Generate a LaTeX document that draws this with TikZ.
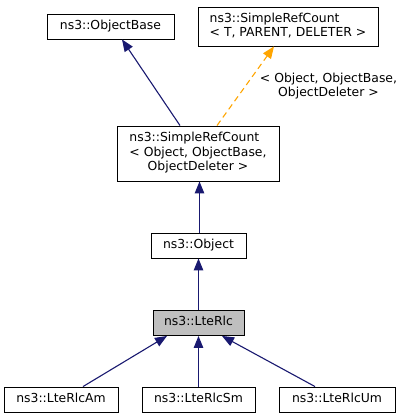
\documentclass[tikz,border=0pt]{standalone}
\usepackage{fontspec}
\setmainfont{DejaVu Sans}
\usetikzlibrary{arrows.meta}
\definecolor{edgeblue}{HTML}{191970}
\definecolor{edgeorange}{HTML}{FFA500}
\definecolor{boxgray}{HTML}{BFBFBF}
\begin{document}
\begin{tikzpicture}[x=1pt,y=-1pt,
  every node/.style={font=\fontsize{12.4}{14.5}\selectfont},
  cls/.style={draw=black,line width=0.9pt,fill=white,inner sep=0pt,
    minimum height=25pt,text height=9pt,text depth=3.4pt},
  multi/.style={draw=black,line width=0.9pt,fill=white,inner sep=0pt},
  inh/.style={draw=edgeblue,line width=1.1pt,-{Triangle[length=12pt,width=9.5pt]}},
  tmpl/.style={draw=edgeorange,line width=1.1pt,dash pattern=on 6pt off 4pt,
    -{Triangle[length=12pt,width=9.5pt]}},
  lbl/.style={inner sep=0pt,align=center}]
\useasboundingbox (0,0) rectangle (405,419);
\node[cls,minimum width=127pt] (ob) at (110.5,26.5) {ns3::ObjectBase};
\node[multi,minimum width=180pt,minimum height=39pt] (srct) at (288,26.5)
  {\begin{tabular}{@{}c@{}}\multicolumn{1}{@{}l@{}}{ns3::SimpleRefCount}\\ \textless{} T, PARENT, DELETER \textgreater\end{tabular}};
\node[multi,minimum width=162pt,minimum height=55pt] (srco) at (198,153.5)
  {\begin{tabular}{@{}c@{}}\multicolumn{1}{@{}l@{}}{ns3::SimpleRefCount}\\ \textless{} Object, ObjectBase,\\ ObjectDeleter \textgreater\end{tabular}};
\node[cls,minimum width=95pt] (obj) at (198.5,245.5) {ns3::Object};
\node[cls,minimum width=91pt,fill=boxgray] (rlc) at (198.5,323) {ns3::LteRlc};
\node[cls,minimum width=114pt] (am) at (61,399.5) {ns3::LteRlcAm};
\node[cls,minimum width=113pt] (sm) at (198.5,399.5) {ns3::LteRlcSm};
\node[cls,minimum width=116pt] (um) at (337,399.5) {ns3::LteRlcUm};
\node[lbl,font=\fontsize{12.4}{13.6}\selectfont] (tl) at (328.5,86) {\textless{} Object, ObjectBase,\\ ObjectDeleter \textgreater};
\draw[inh] ([xshift=-18pt]srco.north) -- ([xshift=11.5pt]ob.south);
\draw[tmpl] ([xshift=19pt]srco.north) -- ([xshift=-14pt]srct.south);
\draw[inh] ([xshift=1pt]obj.north) -- ([xshift=1pt]obj.north |- srco.south);
\draw[inh] (rlc.north) -- (rlc.north |- obj.south);
\draw[inh] ([xshift=22pt]am.north) -- ([xshift=-31.5pt]rlc.south);
\draw[inh] (sm.north) -- (sm.north |- rlc.south);
\draw[inh] ([xshift=-22pt]um.north) -- ([xshift=23.5pt]rlc.south);
\end{tikzpicture}
\end{document}
